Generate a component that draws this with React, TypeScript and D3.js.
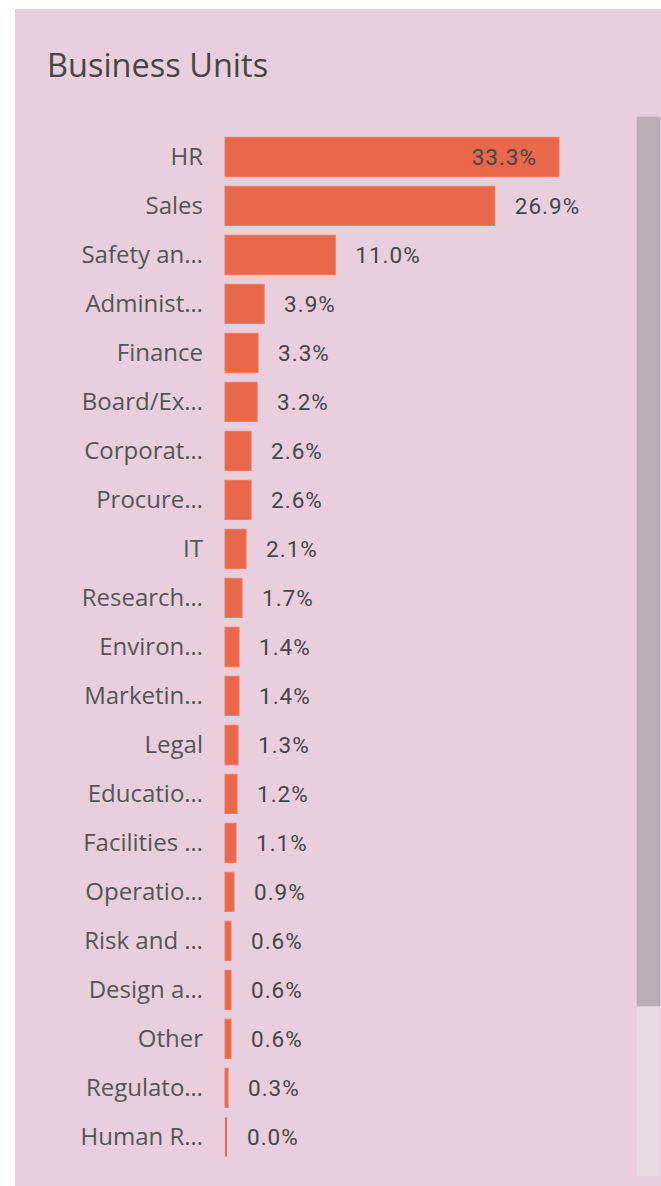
import React from "react";
import * as d3 from "d3";

const categories = [
  "HR", "Sales", "Safety an…", "Administ…", "Finance", "Board/Ex…", "Corporat…",
  "Procure…", "IT", "Research…", "Environ…", "Marketin…", "Legal", "Educatio…",
  "Facilities …", "Operatio…", "Risk and …", "Design a…", "Other", "Regulato…", "Human R…",
];
const values = [
  33.3, 26.9, 11.0, 3.9, 3.3, 3.2, 2.6, 2.6, 2.1, 1.7, 1.4, 1.4, 1.3, 1.2, 1.1, 0.9, 0.6, 0.6, 0.6, 0.3, 0.0,
];
const labels = values.map((v) => v.toFixed(1) + "%");
const title = "Business Units";

const W = 661;
const H = 1186;
const BG = "#E9CEDD";
const BAR = "#E9674A";

export default function App() {
  const x = d3.scaleLinear().domain([0, d3.max(values) as number]).range([225, 559]);
  const y = d3.scaleBand<string>().domain(categories).range([132.4, 1161.4]).paddingInner(0.2).paddingOuter(0.1);
  const bw = y.bandwidth();
  return (
    <svg width={W} height={H} style={{ position: "absolute", left: 0, top: 0, display: "block" }}>
      <rect x={0} y={0} width={W} height={H} fill="#ffffff" />
      <rect x={15} y={9} width={W - 15} height={H - 9} fill={BG} />
      <text x={47} y={77} fill="#454545" fontFamily="'Open Sans', 'Noto Sans', sans-serif" fontSize={32.5}>
        {title}
      </text>
      {categories.map((c, i) => {
        const yy = y(c) as number;
        const x0 = x(0);
        const w = Math.max(2, x(values[i]) - x0);
        const end = x0 + w;
        const inside = end > 540;
        return (
          <g key={c}>
            <text
              x={203}
              y={yy + bw / 2}
              dy="0.35em"
              textAnchor="end"
              fill="#555558"
              fontFamily="'Open Sans', 'Noto Sans', sans-serif"
              fontSize={24}
            >
              {c}
            </text>
            <rect x={x0} y={yy} width={w} height={bw} fill={BAR} stroke="#F07A5E" strokeWidth={w > 3 ? 1 : 0} />
            <text
              x={inside ? end - 22 : end + 20}
              y={yy + bw / 2}
              dy="0.35em"
              textAnchor={inside ? "end" : "start"}
              fill="#45454B"
              fontFamily="Roboto, 'DejaVu Sans', sans-serif"
              fontSize={22.5}
              letterSpacing={1}
            >
              {labels[i]}
            </text>
          </g>
        );
      })}
      <rect x={637} y={1006} width={23} height={170} fill="#E8DAE2" />
      <rect x={637} y={117} width={23} height={889} fill="#BAAEB6" stroke="#B3A7AF" strokeWidth={0.5} />
    </svg>
  );
}
